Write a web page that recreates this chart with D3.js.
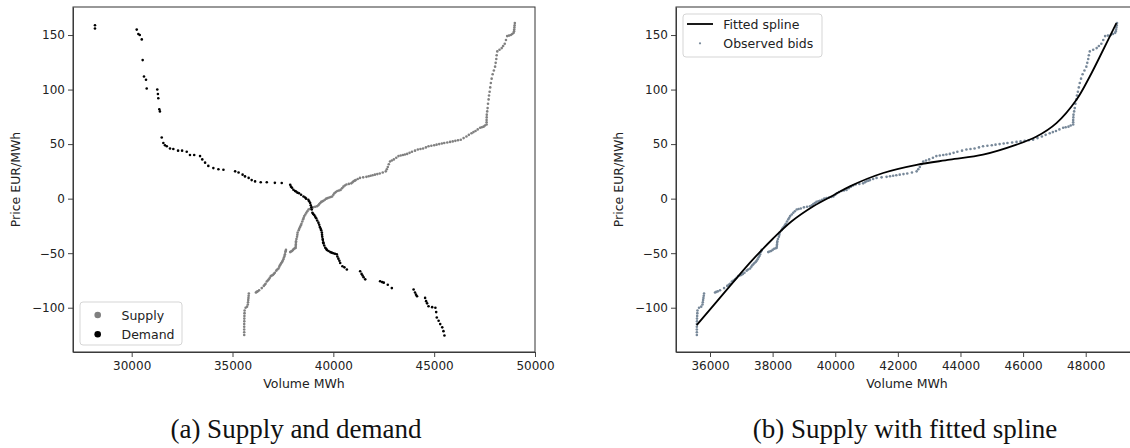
<!DOCTYPE html>
<html>
<head>
<meta charset="utf-8">
<script src="https://cdn.jsdelivr.net/npm/d3@7"></script>
<style>
  body { margin: 0; background: #fff; }
  svg { display: block; }
  .tick text { font-family: "DejaVu Sans", sans-serif; font-size: 12px; fill: #222; }
  .tick line { stroke: #444; }
  .domain { stroke: #444; }
</style>
</head>
<body>
<svg id="chart" width="1130" height="448"></svg>
<script>
// observed supply bids [volume MWh, price EUR/MWh]
var supply = [
  [35580,-125],[35580,-122.5],[35580,-120],[35580,-117.5],[35580,-115],[35585,-112.5],[35585,-110],[35590,-107.5],
  [35595,-105],[35600,-102.5],[35650,-100],[35720,-99],[35760,-97],[35770,-95],[35780,-93],[35790,-91],
  [35800,-89],[35810,-87],[36160,-86],[36200,-85.5],[36250,-85],[36320,-84],[36450,-82],[36550,-80],
  [36600,-79],[36640,-78],[36700,-76],[36750,-75],[36800,-74],[36850,-72.5],[36900,-71],[36950,-70.5],
  [37000,-70],[37050,-69],[37100,-68],[37170,-66],[37220,-65],[37280,-64],[37320,-62.5],[37350,-61],
  [37390,-60],[37420,-59],[37460,-58],[37490,-57],[37520,-55.5],[37550,-54],[37580,-52.5],[37600,-51],
  [37620,-49],[37640,-48],[37650,-47],[37860,-49],[37900,-48.5],[37950,-48],[38000,-47],[38050,-46],
  [38100,-45.5],[38130,-45],[38135,-43.5],[38140,-42],[38145,-40.5],[38150,-39],[38170,-37],[38200,-35],
  [38215,-33],[38230,-31],[38280,-29],[38310,-27.5],[38350,-26],[38390,-24.5],[38420,-23],[38460,-21],
  [38500,-19],[38530,-17.5],[38560,-16],[38610,-14.5],[38660,-13],[38710,-11.5],[38770,-10],[38830,-9.5],
  [38900,-9],[39000,-8],[39100,-7.5],[39190,-7],[39250,-6],[39300,-5],[39350,-4],[39400,-3],
  [39460,-2.5],[39510,-2],[39580,-1],[39650,0],[39720,0.5],[39800,1],[39870,1.5],[39940,2],
  [40000,3.5],[40050,5],[40120,6],[40200,7],[40280,7.5],[40360,8],[40430,9.5],[40500,11],
  [40570,12],[40650,13],[40770,13.5],[40890,14],[40950,15],[41000,16],[41060,16.5],[41110,17],
  [41210,18],[41320,19],[41480,19.5],[41640,20],[41750,20.5],[41850,21],[41950,21.5],[42060,22],
  [42180,22.5],[42300,23],[42450,24],[42600,25],[42650,27],[42700,29],[42750,31.5],[42810,34],
  [42900,35],[43000,36],[43120,37.5],[43230,39],[43340,39.5],[43450,40],[43550,40.5],[43660,41],
  [43780,42],[43900,43],[44050,44],[44190,45],[44320,45.5],[44450,46],[44590,47],[44720,48],
  [44860,48.5],[45000,49],[45120,49.5],[45250,50],[45380,50.5],[45500,51],[45650,51.5],[45790,52],
  [45920,52.5],[46050,53],[46180,53.5],[46320,54],[46460,55.5],[46600,57],[46720,58.5],[46850,60],
  [46950,61],[47050,62],[47160,63.5],[47280,65],[47360,65.5],[47450,66],[47520,67],[47600,68],
  [47600,70],[47600,72],[47605,74.5],[47610,77],[47630,80],[47650,83],[47670,87],[47700,91],
  [47720,94.5],[47750,98],[47780,102],[47810,106],[47850,110],[47900,114],[47960,117.5],[48020,121],
  [48050,124.5],[48080,128],[48100,131.5],[48130,135],[48240,136.5],[48350,138],[48420,140],[48500,142],
  [48560,145.5],[48620,149],[48710,149.5],[48800,150],[48870,151],[48940,152],[48960,153.5],[48970,155],
  [48980,157],[48990,159],[49000,161]
];

// demand bids [volume MWh, price EUR/MWh]
var demand = [
  [28180,159],[28180,156],[30250,155],[30330,151],[30400,150],[30500,146],[30545,127],[30610,112],
  [30710,109],[30745,101],[31270,100],[31300,96],[31320,92],[31370,82],[31400,80],[31490,56],
  [31570,51],[31650,49],[31740,48],[31900,46],[32065,45.5],[32300,44],[32500,44],[32730,43],
  [32890,40],[33100,40],[33390,39],[33500,36],[33640,33],[33800,30],[34050,28],[34300,27],
  [34550,26.5],[35130,25],[35300,24],[35500,22],[35620,20.4],[35800,19],[35950,17],[36120,15.8],
  [36400,15],[36700,15],[37100,14.5],[37440,14.4],[37860,12.8],[37900,11],[37950,10],[38020,8.2],
  [38100,7],[38150,6.5],[38220,5.5],[38300,5],[38400,3.5],[38520,2],[38600,1],[38650,0],
  [38760,-1],[38800,-2.5],[38850,-4],[38880,-6],[38910,-8],[38930,-10],[38960,-13],[39000,-14],
  [39050,-15],[39100,-16.5],[39150,-18],[39200,-20],[39260,-22],[39300,-24],[39330,-26],[39370,-27.5],
  [39400,-29],[39430,-31],[39440,-33],[39450,-35],[39470,-37],[39480,-38],[39500,-40],[39510,-41],
  [39550,-43],[39600,-45],[39640,-46],[39680,-47],[39760,-48],[39850,-49],[39920,-49.5],[40000,-50],
  [40080,-50.5],[40170,-51],[40200,-53],[40250,-55],[40300,-57],[40340,-59],[40450,-62],[40550,-63],
  [40670,-65],[41330,-66.5],[41400,-69],[41450,-70.5],[41500,-72],[41580,-74],[42320,-75.7],[42420,-76.5],
  [42500,-77],[42700,-79],[42900,-82],[43980,-83.3],[44050,-86],[44100,-88],[44150,-89.5],[44550,-91],
  [44600,-94],[44650,-96],[44720,-98.6],[44900,-99.5],[45060,-100],[45100,-104],[45130,-109],[45220,-112],
  [45300,-115],[45400,-118],[45460,-121.5],[45510,-125.5]
];

// fitted spline knots [volume MWh, price EUR/MWh]
var spline = [
  [35575,-116],[36640,-80],[37300,-58],[38000,-37],[38600,-21],[39300,-7],[40000,4],
  [40470,11.3],[41530,23.5],[42600,31],[43660,35.7],[44720,40.3],[45790,49.5],
  [46430,57],[47065,69.3],[47705,90.7],[48130,112],[48560,136.5],[48980,161]
];

var yTicks = [-100, -50, 0, 50, 100, 150];
var xTicksA = [30000, 35000, 40000, 45000, 50000];
var xTicksB = [36000, 38000, 40000, 42000, 44000, 46000, 48000];

var svg = d3.select("#chart");
var plotTop = 7, plotBottom = 352;

var y = d3.scaleLinear().domain([-140.6, 175.7]).range([plotBottom, plotTop]);

function frame(g, x, xTicks, left, right) {
  g.append("g")
    .attr("transform", "translate(0," + plotBottom + ")")
    .call(d3.axisBottom(x).tickValues(xTicks).tickFormat(d3.format("d")).tickSize(5).tickPadding(4).tickSizeOuter(0));
  g.append("g")
    .attr("transform", "translate(" + left + ",0)")
    .call(d3.axisLeft(y).tickValues(yTicks).tickSize(5).tickPadding(3).tickSizeOuter(0));
  //box
  g.append("rect")
    .attr("x", left).attr("y", plotTop)
    .attr("width", right - left).attr("height", plotBottom - plotTop)
    .attr("fill", "none").attr("stroke", "#333").attr("stroke-width", 1);
  g.append("text")
    .attr("x", (left + right) / 2)
    .attr("y", 388)
    .attr("text-anchor", "middle")
    .style("font-family", "DejaVu Sans").style("font-size", "12.5px").style("fill", "#222")
    .text("Volume MWh");
  g.append("text")
    .attr("transform", "translate(" + (left - 57) + "," + ((plotTop + plotBottom) / 2) + ") rotate(-90)")
    .attr("text-anchor", "middle")
    .attr("dy", "0.35em")
    .style("font-family", "DejaVu Sans").style("font-size", "12.5px").style("fill", "#222")
    .text("Price EUR/MWh");
}

// (a) supply and demand
var xa = d3.scaleLinear().domain([27090, 50000]).range([73, 535]);
var ga = svg.append("g");
frame(ga, xa, xTicksA, 73, 535);

ga.selectAll(".sup").data(supply).enter().append("circle")
  .attr("cx", function(d) { return xa(d[0]); })
  .attr("cy", function(d) { return y(d[1]); })
  .attr("r", 1.3).attr("fill", "#808080");
ga.selectAll(".dem").data(demand).enter().append("circle")
  .attr("cx", function(d) { return xa(d[0]); })
  .attr("cy", function(d) { return y(d[1]); })
  .attr("r", 1.3).attr("fill", "#000");

//legend a
var la = ga.append("g");
la.append("rect").attr("x", 80).attr("y", 302).attr("width", 102).attr("height", 43).attr("rx", 3)
  .attr("fill", "#fff").attr("fill-opacity", 0.8).attr("stroke", "#d5d5d5");
[["Supply", "#808080"], ["Demand", "#000"]].forEach(function(e, i) {
  var cy = 315 + i * 19.3;
  la.append("circle").attr("cx", 97.7).attr("cy", cy).attr("r", 3.3).attr("fill", e[1]);
  la.append("text").attr("x", 121.5).attr("y", cy).attr("dy", "0.36em")
    .style("font-family", "DejaVu Sans").style("font-size", "12.5px").style("fill", "#222").text(e[0]);
});

// (b) supply with fitted spline
var xb = d3.scaleLinear().domain([34914, 49670]).range([676, 1138]);
var gb = svg.append("g");
frame(gb, xb, xTicksB, 676, 1138);

gb.selectAll(".bid").data(supply).enter().append("circle")
  .attr("cx", function(d) { return xb(d[0]); })
  .attr("cy", function(d) { return y(d[1]); })
  .attr("r", 1.3).attr("fill", "#778899");

var line = d3.line()
  .x(function(d) { return xb(d[0]); })
  .y(function(d) { return y(d[1]); })
  .curve(d3.curveCatmullRom.alpha(0.5));
gb.append("path").datum(spline).attr("d", line)
  .attr("fill", "none").attr("stroke", "#000").attr("stroke-width", 1.8);

//legend b
var lb = gb.append("g");
lb.append("rect").attr("x", 683).attr("y", 14).attr("width", 139).attr("height", 43).attr("rx", 3)
  .attr("fill", "#fff").attr("fill-opacity", 0.8).attr("stroke", "#d5d5d5");
lb.append("line").attr("x1", 687).attr("x2", 713).attr("y1", 24).attr("y2", 24)
  .attr("stroke", "#000").attr("stroke-width", 1.8);
lb.append("circle").attr("cx", 700).attr("cy", 43.3).attr("r", 1.1).attr("fill", "#778899");
[["Fitted spline", 24], ["Observed bids", 43.3]].forEach(function(e) {
  lb.append("text").attr("x", 723.3).attr("y", e[1]).attr("dy", "0.36em")
    .style("font-family", "DejaVu Sans").style("font-size", "12.5px").style("fill", "#222").text(e[0]);
});

// captions
[["(a) Supply and demand", 296], ["(b) Supply with fitted spline", 905]].forEach(function(c) {
  svg.append("text").attr("x", c[1]).attr("y", 438).attr("text-anchor", "middle")
    .style("font-family", "Liberation Serif, serif").style("font-size", "27px").style("fill", "#111")
    .text(c[0]);
});
</script>
</body>
</html>
